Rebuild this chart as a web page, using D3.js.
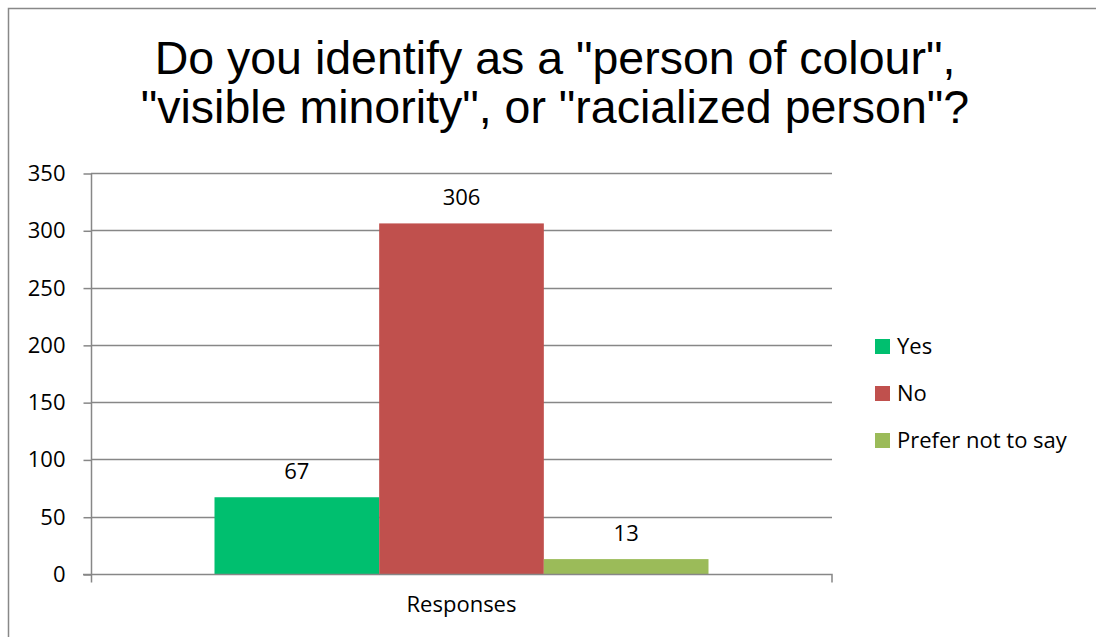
<!DOCTYPE html>
<html>
<head>
<meta charset="utf-8">
<script src="https://cdn.jsdelivr.net/npm/d3@7"></script>
<style>
  html, body { margin: 0; padding: 0; background: #fff; }
  svg { display: block; }
</style>
</head>
<body>
<svg id="chart" width="1096" height="637"></svg>
<script>
// Survey answers, one bar per answer
const series = ["Yes", "No", "Prefer not to say"];
const values = [67, 306, 13];
const colors = ["#00BF6F", "#C0504D", "#9BBB59"];
const category = ["Responses"];
const yTicks = [0, 50, 100, 150, 200, 250, 300, 350];
const titleLines = ['Do you identify as a "person of colour",', '"visible minority", or "racialized person"?'];

const svg = d3.select("#chart");
const W = 1096, H = 637;
const plot = { left: 91, right: 832, top: 173, bottom: 574 };
const axisFont = "'Open Sans', 'Noto Sans', sans-serif";
const axisSize = 22;

// Outer chart frame
svg.append("rect")
  .attr("x", 8.5).attr("y", 8.5)
  .attr("width", W).attr("height", H)
  .attr("fill", "#fff").attr("stroke", "#888").attr("stroke-width", 1.5);

// Title
svg.append("g").selectAll("text").data(titleLines).join("text")
  .attr("x", 555).attr("y", (d, i) => 74 + i * 49)
  .attr("text-anchor", "middle")
  .attr("font-family", "'Liberation Sans', Arial, sans-serif")
  .attr("font-size", 46.5)
  .attr("fill", "#000")
  .text(d => d);

const y = d3.scaleLinear().domain([0, 350]).range([plot.bottom, plot.top]);
const x0 = d3.scaleBand().domain(category).range([plot.left, plot.right]).paddingInner(0).paddingOuter(0.25);
const x1 = d3.scaleBand().domain(series).range([0, x0.bandwidth()]).padding(0);

// Horizontal gridlines
svg.append("g").selectAll("line").data(yTicks.filter(t => t > 0)).join("line")
  .attr("x1", plot.left).attr("x2", plot.right)
  .attr("y1", d => Math.round(y(d)) + 0.5).attr("y2", d => Math.round(y(d)) + 0.5)
  .attr("stroke", "#878787").attr("stroke-width", 1.5);

// Y axis
const yAxis = d3.axisLeft(y).tickValues(yTicks).tickSize(8).tickPadding(18).tickSizeOuter(0);
const gy = svg.append("g").attr("transform", `translate(${plot.left + 0.5},0.5)`).call(yAxis);
gy.select(".domain").attr("stroke", "#878787").attr("stroke-width", 1.5)
  .attr("d", `M0,${plot.top}V${plot.bottom + 8}`);
gy.selectAll(".tick line").attr("stroke", "#878787").attr("stroke-width", 1.5);
gy.selectAll(".tick text")
  .attr("font-family", axisFont).attr("font-size", axisSize).attr("fill", "#000");

// Bars
const bars = svg.append("g").attr("transform", `translate(${x0(category[0])},0)`);
bars.selectAll("rect").data(series).join("rect")
  .attr("x", d => x1(d))
  .attr("width", x1.bandwidth())
  .attr("y", (d, i) => y(values[i]))
  .attr("height", (d, i) => y(0) - y(values[i]))
  .attr("fill", (d, i) => colors[i]);

// Value labels
bars.selectAll("text").data(series).join("text")
  .attr("x", d => x1(d) + x1.bandwidth() / 2)
  .attr("y", (d, i) => y(values[i]) - 18)
  .attr("text-anchor", "middle")
  .attr("font-family", axisFont).attr("font-size", axisSize).attr("fill", "#000")
  .text((d, i) => values[i]);

// X axis
const xAxis = d3.axisBottom(x0).tickSize(0).tickPadding(22).tickSizeOuter(0);
const gx = svg.append("g").attr("transform", `translate(0,${plot.bottom + 0.5})`).call(xAxis);
gx.select(".domain").attr("stroke", "#878787").attr("stroke-width", 1.5)
  .attr("d", `M${plot.left - 8},0H${plot.right}V8`);
gx.selectAll(".tick text")
  .attr("font-family", axisFont).attr("font-size", axisSize).attr("fill", "#000");

// Legend
const legend = svg.append("g").attr("transform", "translate(875,0)");
const leg = legend.selectAll("g").data(series).join("g")
  .attr("transform", (d, i) => `translate(0,${346 + i * 47})`);
leg.append("rect").attr("x", 0).attr("y", -7).attr("width", 15).attr("height", 15)
  .attr("fill", (d, i) => colors[i]);
leg.append("text").attr("x", 22).attr("y", 0).attr("dy", "0.35em")
  .attr("font-family", axisFont).attr("font-size", axisSize).attr("fill", "#000")
  .text(d => d);
</script>
</body>
</html>
